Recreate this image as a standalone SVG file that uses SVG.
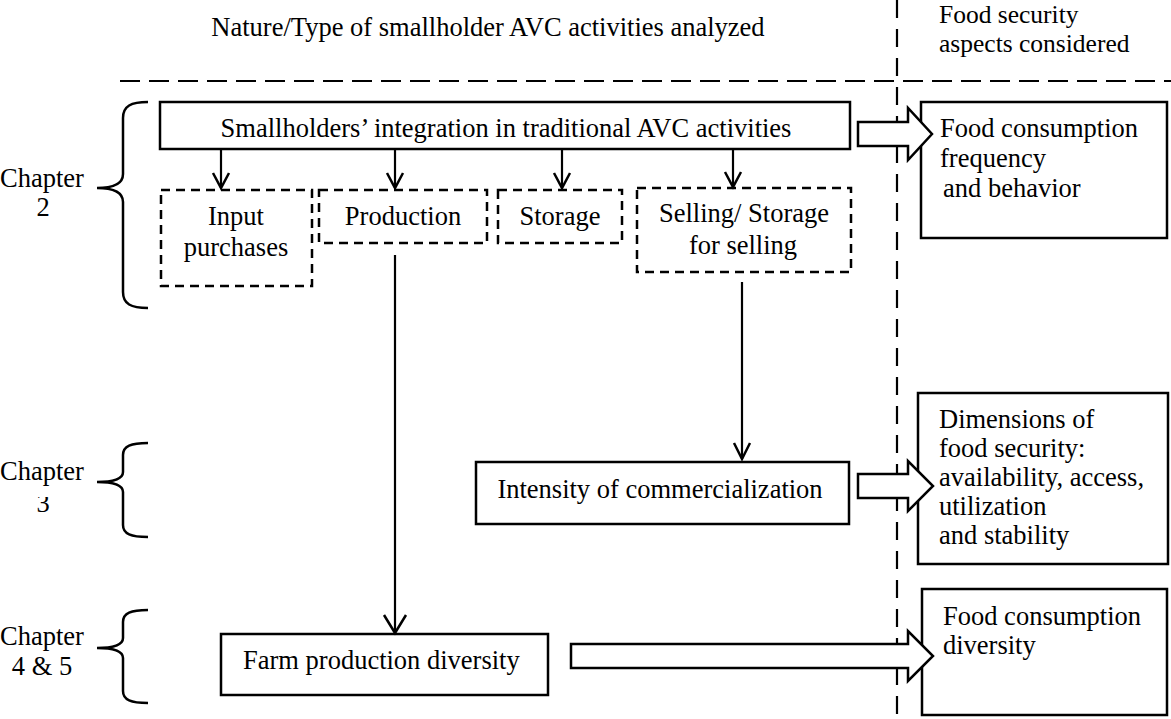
<svg xmlns="http://www.w3.org/2000/svg" width="1171" height="719" viewBox="0 0 1171 719">
  <style>
    text { font-family: "Liberation Serif", "Times New Roman", serif; font-size: 26.5px; fill: #000; }
    .mid { text-anchor: middle; }
    .hdr { font-size: 25.5px; }
    .box { fill: #fff; stroke: #000; stroke-width: 2.5; }
    .dbox { fill: #fff; stroke: #000; stroke-width: 2.5; stroke-dasharray: 9 6; }
    .sep { fill: none; stroke: #000; stroke-width: 2.2; }
    .line { fill: none; stroke: #000; stroke-width: 2.2; }
    .head { fill: none; stroke: #000; stroke-width: 2.5; stroke-linejoin: miter; }
    .brace { fill: none; stroke: #000; stroke-width: 2.5; }
    .block { fill: #fff; stroke: #000; stroke-width: 2.5; stroke-linejoin: miter; }
  </style>
  <defs>
    <clipPath id="clip-ch3">
      <rect x="0" y="497" width="90" height="30"/>
    </clipPath>
  </defs>

  <rect width="1171" height="719" fill="#fff"/>

  <!-- column headers and separators -->
  <g id="headers">
    <text x="488" y="36" class="mid">Nature/Type of smallholder AVC activities analyzed</text>
    <text x="939" y="23" class="hdr">Food security</text>
    <text x="939" y="52" class="hdr">aspects considered</text>
    <line class="sep" x1="120" y1="81" x2="1171" y2="81" stroke-dasharray="20 9"/>
    <line class="sep" x1="897" y1="0" x2="897" y2="719" stroke-dasharray="18 11"/>
  </g>

  <!-- chapter brackets -->
  <g id="chapter2">
    <path class="brace" d="M148,102 C131,102 123,106 123,118 L123,174 C123,184 113,188 97,188 C113,188 123,192 123,202 L123,292 C123,304 131,308 148,308"/>
    <text x="42" y="187" class="mid">Chapter</text>
    <text x="43" y="216" class="mid">2</text>
  </g>
  <g id="chapter3">
    <path class="brace" d="M148,443 C131,443 123,446 123,455 L123,472 C123,479 113,482 97,482 C113,482 123,485 123,492 L123,525 C123,534 131,537 148,537"/>
    <text x="42" y="480" class="mid">Chapter</text>
    <text x="43" y="512" class="mid" clip-path="url(#clip-ch3)">3</text>
  </g>
  <g id="chapter45">
    <path class="brace" d="M148,610 C131,610 123,613 123,622 L123,638 C123,645 113,648 97,648 C113,648 123,651 123,658 L123,691 C123,700 131,703 148,703"/>
    <text x="42" y="645" class="mid">Chapter</text>
    <text x="42" y="675" class="mid">4 &amp; 5</text>
  </g>

  <!-- activity nodes -->
  <g id="integration">
    <rect class="box" x="160" y="102" width="690" height="47"/>
    <text x="506" y="137" class="mid">Smallholders’ integration in traditional AVC activities</text>
  </g>
  <g id="input-purchases">
    <rect class="dbox" x="161" y="190" width="151" height="96"/>
    <text x="236" y="225" class="mid">Input</text>
    <text x="236" y="256" class="mid">purchases</text>
  </g>
  <g id="production">
    <rect class="dbox" x="319" y="190" width="168" height="53"/>
    <text x="403" y="225" class="mid">Production</text>
  </g>
  <g id="storage">
    <rect class="dbox" x="498" y="190" width="124" height="53"/>
    <text x="560" y="225" class="mid">Storage</text>
  </g>
  <g id="selling">
    <rect class="dbox" x="637" y="188" width="214" height="84"/>
    <text x="744" y="222" class="mid">Selling/ Storage</text>
    <text x="743" y="254" class="mid">for selling</text>
  </g>
  <g id="commercialization">
    <rect class="box" x="476" y="462" width="373" height="62"/>
    <text x="660" y="498" class="mid">Intensity of commercialization</text>
  </g>
  <g id="farm-diversity">
    <rect class="box" x="221" y="634" width="327" height="61"/>
    <text x="243" y="669">Farm production diversity</text>
  </g>

  <!-- food security outcome nodes -->
  <g id="consumption-frequency">
    <rect class="box" x="921" y="102" width="246" height="136"/>
    <text x="940" y="137">Food consumption</text>
    <text x="940" y="167">frequency</text>
    <text x="943" y="197">and behavior</text>
  </g>
  <g id="fs-dimensions">
    <rect class="box" x="918" y="393" width="250" height="171"/>
    <text x="939" y="428">Dimensions of</text>
    <text x="939" y="457">food security:</text>
    <text x="939" y="486">availability, access,</text>
    <text x="939" y="515">utilization</text>
    <text x="939" y="544">and stability</text>
  </g>
  <g id="consumption-diversity">
    <rect class="box" x="922" y="589" width="245" height="126"/>
    <text x="943" y="625">Food consumption</text>
    <text x="943" y="654">diversity</text>
  </g>

  <!-- connectors -->
  <g id="connectors">
    <!-- integration to activities -->
    <line class="line" x1="221" y1="150" x2="221" y2="188"/>
    <polyline class="head" points="213,173 221,188 229,173"/>
    <line class="line" x1="395" y1="150" x2="395" y2="188"/>
    <polyline class="head" points="387,173 395,188 403,173"/>
    <line class="line" x1="562" y1="150" x2="562" y2="188"/>
    <polyline class="head" points="554,173 562,188 570,173"/>
    <line class="line" x1="733" y1="150" x2="733" y2="187"/>
    <polyline class="head" points="725,172 733,187 741,172"/>

    <!-- production to farm diversity -->
    <line class="line" x1="395" y1="255" x2="395" y2="633"/>
    <polyline class="head" points="384,615 395,633 406,615"/>

    <!-- selling to commercialization -->
    <line class="line" x1="742" y1="282" x2="742" y2="459"/>
    <polyline class="head" points="734,443 742,459 750,443"/>

    <!-- block arrows to food security aspects -->
    <polygon class="block" points="858,122 908,122 908,108 932,134 908,160 908,146 858,146"/>
    <polygon class="block" points="858,474 908,474 908,461 933,486 908,511 908,498 858,498"/>
    <polygon class="block" points="571,644 908,644 908,631 933,656 908,681 908,668 571,668"/>
  </g>
</svg>
